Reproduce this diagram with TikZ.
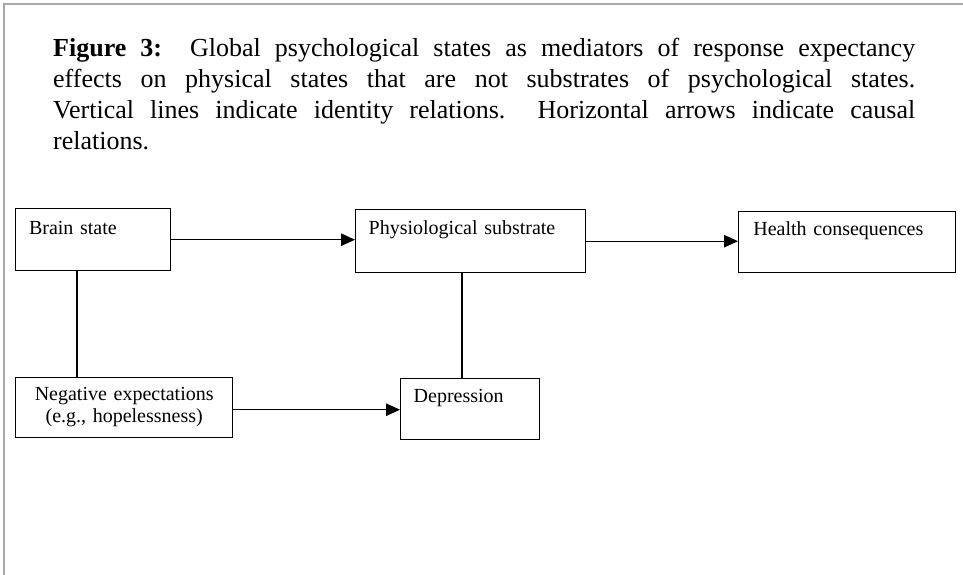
\documentclass[tikz,border=0pt]{standalone}
\usepackage{fontspec}
\setmainfont{Liberation Serif}
\usetikzlibrary{arrows.meta}
\definecolor{framegray}{HTML}{A8A8A8}
\begin{document}
\begin{tikzpicture}[x=1pt,y=-1pt,
  box/.style={draw, line width=1.4pt, rectangle, inner ysep=0pt, anchor=north west,
              align=left, font=\fontsize{20}{21.7}\selectfont},
  arr/.style={line width=1.1pt, -{Triangle[length=14pt,width=12.5pt]}},
  idl/.style={line width=1.1pt},
  frame/.style={draw=framegray, line width=1.6pt}]
\useasboundingbox (0,0) rectangle (963,575);
% page frame (top and left)
\draw[frame] (4,575) -- (4,4) -- (963,4);
% caption
\node[anchor=base west, inner sep=0pt, text width=862pt, align=justify,
      font=\fontsize{26}{31.1}\selectfont] (title) at (53,56.7)
  {{\bfseries Figure 3:}\ \ Global psychological states as mediators of response expectancy\linebreak
   effects on physical states that are not substrates of psychological states.\linebreak
   Vertical lines indicate identity relations.\ \ Horizontal arrows indicate causal\linebreak
   relations.};
% boxes
\node[box, inner xsep=13.3pt, text width=128.4pt, text height=25.3pt, text depth=36.7pt]
  (brain) at (15,208) {Brain state};
\node[box, inner xsep=13pt, text width=204pt, text height=24.5pt, text depth=38.5pt]
  (phys) at (355,209) {Physiological substrate};
\node[box, inner xsep=14.7pt, text width=187.6pt, text height=24pt, text depth=37pt]
  (health) at (738,211) {Health consequences};
\node[box, align=center, inner xsep=5pt, text width=207pt, text height=23pt, text depth=37pt]
  (neg) at (15,377) {Negative expectations\\(e.g., hopelessness)};
\node[box, inner xsep=13pt, text width=113pt, text height=23.7pt, text depth=37.3pt]
  (dep) at (400,378) {Depression};
% causal arrows
\draw[arr] (brain.east) -- (brain.east -| phys.west);
\draw[arr] (phys.east) -- (phys.east -| health.west);
\draw[arr] ([yshift=-2pt]neg.east) -- ([yshift=-2pt]neg.east -| dep.west);
% identity lines
\draw[idl] ([xshift=62pt]brain.south west) -- ([xshift=62pt]brain.south west |- neg.north);
\draw[idl] ([xshift=62pt]dep.north west) -- ([xshift=62pt]dep.north west |- phys.south);
\end{tikzpicture}
\end{document}
